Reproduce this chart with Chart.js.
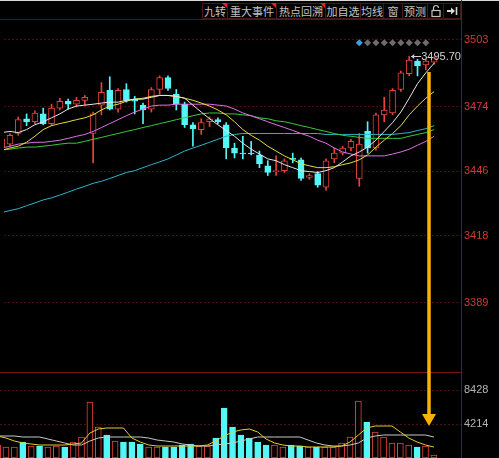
<!DOCTYPE html>
<html>
<head>
<meta charset="utf-8">
<title>K线</title>
<script src="https://cdn.jsdelivr.net/npm/chart.js@4.4.1/dist/chart.umd.min.js"></script>
<style>
    html, body { margin: 0; padding: 0; background: #000; overflow: hidden; }
    #wrap { position: relative; width: 499px; height: 458px; background: #000; }
    #priceBox { position: absolute; left: 0; top: 20px; width: 499px; height: 352px; }
    #volBox { position: absolute; left: 0; top: 372px; width: 499px; height: 86px; }
    .hline { position: absolute; left: 0; width: 461px; height: 1px; background: #5e1212; }
    .vline { position: absolute; left: 461px; top: 0; width: 1px; height: 458px; background: #6e1616; }
    .btn { position: absolute; top: 3px; height: 16px; box-sizing: border-box; border: 1px solid #4a1717;
           font: 11px "Noto Sans CJK SC", sans-serif; line-height: 14px; color: #c4c4c4; text-align: center; }
    .tri { position: absolute; right: -1px; top: -1px; width: 0; height: 0;
           border-top: 6px solid #e02424; border-left: 6px solid transparent; }
    #topStrip { position: absolute; left: 0; top: 0; width: 499px; height: 1px; background: #d8d8d8; }
    #arrow { position: absolute; left: 0; top: 0; pointer-events: none; }
</style>
</head>
<body>
<div id="wrap">
    <div id="topStrip"></div>
    <div id="toolbar"></div>
    <div class="hline" style="top:19px"></div>
    <div id="priceBox"><canvas id="priceChart"></canvas></div>
    <div id="volBox"><canvas id="volChart"></canvas></div>
    <div class="hline" style="top:372px;background:#761616"></div>
    <div class="vline"></div>
    <svg id="arrow" width="499" height="458">
        <line x1="429" y1="72" x2="429" y2="416" stroke="#f4b400" stroke-width="3.5"/>
        <polygon points="422,414 436,414 429,426" fill="#f4b400"/>
    </svg>
</div>
<script>
// daily candles, first entry is the partly hidden one at the left edge
const opens  = [3456.4,
    3457.7, 3462.3, 3468.7, 3467.4, 3470.8, 3466.6, 3473.3, 3476.3, 3475.0, 3476.7,
    3462.3, 3474.6, 3481.0, 3472.9, 3481.4, 3477.2, 3474.6, 3472.9, 3481.4, 3486.5,
    3479.3, 3475.0, 3466.1, 3464.0, 3467.4, 3468.3, 3466.1, 3456.0, 3453.8, 3453.8,
    3453.0, 3448.3, 3445.8, 3446.2, 3451.5, 3450.9, 3443.3, 3444.9, 3439.0, 3451.3,
    3453.8, 3456.0, 3442.8, 3463.2, 3456.0, 3470.4, 3471.2, 3481.4, 3488.2, 3493.7,
    3492.0, 3493.2];
const closes = [3459.8,
    3461.5, 3468.3, 3467.4, 3471.2, 3466.6, 3473.3, 3476.3, 3475.0, 3476.7, 3478.0,
    3470.8, 3480.1, 3472.9, 3481.0, 3476.7, 3476.3, 3472.5, 3481.4, 3486.5, 3481.8,
    3475.0, 3466.1, 3464.4, 3467.0, 3468.7, 3467.4, 3456.0, 3453.8, 3453.4, 3453.4,
    3449.2, 3445.4, 3446.2, 3450.5, 3451.1, 3442.8, 3444.1, 3439.9, 3450.5, 3453.8,
    3456.0, 3458.9, 3457.7, 3456.0, 3470.4, 3472.5, 3481.0, 3488.6, 3494.1, 3491.6,
    3493.7, 3495.2];
const highs  = [3460.6,
    3462.3, 3469.5, 3470.8, 3472.1, 3473.3, 3475.0, 3477.6, 3477.2, 3478.0, 3478.8,
    3471.6, 3484.4, 3486.9, 3481.8, 3483.9, 3478.4, 3475.5, 3482.2, 3487.3, 3487.3,
    3481.4, 3475.9, 3467.0, 3468.7, 3469.5, 3469.1, 3467.0, 3458.1, 3461.1, 3458.9,
    3454.7, 3450.5, 3452.6, 3451.3, 3453.8, 3451.7, 3444.9, 3445.8, 3451.3, 3456.0,
    3456.8, 3459.8, 3462.3, 3467.4, 3471.2, 3478.0, 3481.8, 3489.4, 3495.7, 3494.5,
    3494.5, 3495.5];
const lows   = [3455.5,
    3456.8, 3461.5, 3465.7, 3466.6, 3466.1, 3465.7, 3472.5, 3472.9, 3473.8, 3474.6,
    3449.6, 3470.4, 3472.5, 3471.6, 3475.9, 3470.8, 3466.6, 3471.6, 3479.3, 3481.0,
    3472.5, 3464.9, 3456.8, 3461.9, 3465.3, 3466.6, 3451.3, 3451.7, 3451.3, 3453.0,
    3447.5, 3444.1, 3444.1, 3445.4, 3449.6, 3442.0, 3442.4, 3439.0, 3437.7, 3449.6,
    3453.0, 3454.7, 3439.4, 3453.8, 3455.1, 3467.4, 3470.4, 3480.5, 3487.3, 3487.3,
    3489.9, 3492.4];

const ma5  = [3462.7,
    3463.2, 3462.7, 3464.0, 3466.1, 3467.4, 3469.1, 3470.8, 3472.9, 3474.2, 3474.6,
    3475.0, 3475.5, 3475.9, 3475.9, 3476.7, 3477.2, 3477.2, 3478.0, 3478.8, 3478.8,
    3478.4, 3477.6, 3474.6, 3471.6, 3468.7, 3466.1, 3463.6, 3461.1, 3458.1, 3455.5,
    3453.4, 3451.3, 3450.5, 3448.8, 3447.5, 3446.2, 3445.8, 3445.4, 3446.2, 3447.5,
    3450.0, 3452.6, 3454.3, 3456.4, 3459.4, 3463.2, 3467.0, 3471.6, 3477.6, 3483.9,
    3488.6, 3492.8];
const ma10 = [3455.1,
    3456.0, 3456.8, 3458.5, 3461.1, 3464.0, 3465.7, 3466.6, 3467.4, 3468.3, 3469.1,
    3470.4, 3472.5, 3474.2, 3475.0, 3476.3, 3477.2, 3477.6, 3478.4, 3478.8, 3478.8,
    3478.4, 3477.6, 3476.7, 3475.5, 3474.2, 3472.5, 3470.4, 3467.4, 3464.0, 3461.5,
    3459.4, 3456.8, 3454.7, 3452.6, 3450.9, 3449.2, 3448.3, 3447.5, 3447.5, 3447.9,
    3448.8, 3449.6, 3450.9, 3453.0, 3456.4, 3459.4, 3462.3, 3465.7, 3470.4, 3474.2,
    3477.6, 3480.5];
const ma20 = [3456.0,
    3456.8, 3457.7, 3458.1, 3458.5, 3458.5, 3458.9, 3459.4, 3460.2, 3461.1, 3461.9,
    3463.2, 3464.9, 3466.6, 3468.3, 3470.0, 3471.6, 3472.9, 3474.2, 3474.6, 3474.6,
    3475.0, 3475.0, 3475.0, 3475.0, 3475.0, 3474.6, 3474.2, 3472.9, 3471.2, 3470.0,
    3468.7, 3467.4, 3466.1, 3464.9, 3463.6, 3462.3, 3461.1, 3459.4, 3458.1, 3456.0,
    3454.3, 3453.4, 3452.6, 3452.6, 3452.6, 3452.6, 3453.4, 3454.3, 3455.5, 3457.2,
    3458.9, 3461.1];
const ma30 = [3455.1,
    3455.5, 3456.0, 3456.4, 3456.4, 3456.8, 3457.2, 3457.7, 3458.1, 3458.1, 3458.9,
    3459.8, 3460.6, 3461.5, 3462.3, 3463.2, 3464.0, 3464.9, 3465.7, 3466.6, 3467.4,
    3468.3, 3469.1, 3470.0, 3470.8, 3471.2, 3471.2, 3470.8, 3470.8, 3470.4, 3470.0,
    3469.1, 3468.7, 3467.8, 3467.4, 3466.6, 3465.7, 3464.9, 3464.0, 3463.2, 3462.3,
    3461.5, 3461.1, 3460.6, 3460.2, 3460.2, 3460.2, 3460.2, 3460.2, 3461.1, 3461.9,
    3462.7, 3464.0];
const ma60 = [3428.0,
    3428.9, 3429.7, 3431.0, 3432.2, 3433.5, 3434.4, 3435.6, 3436.9, 3438.2, 3439.4,
    3440.7, 3441.6, 3442.8, 3444.1, 3445.4, 3446.2, 3447.5, 3448.8, 3450.0, 3451.3,
    3453.0, 3454.7, 3456.0, 3457.2, 3458.5, 3459.8, 3461.1, 3461.9, 3462.3, 3462.3,
    3462.3, 3462.3, 3462.3, 3462.3, 3462.3, 3462.3, 3462.3, 3462.3, 3461.9, 3461.9,
    3461.9, 3461.9, 3461.9, 3461.9, 3461.9, 3461.9, 3461.9, 3462.3, 3462.7, 3463.6,
    3464.4, 3465.7];

const volumes = [1612,
    1364, 1364, 1984, 1488, 1488, 1364, 1488, 1364, 1984, 2604,
    6944, 3844, 2852, 2108, 1984, 1984, 1736, 1364, 1364, 1364,
    1364, 1612, 1736, 1488, 1488, 2480, 6200, 3844, 2852, 2480,
    1984, 1612, 1612, 1364, 1612, 1488, 1364, 1364, 1364, 1364,
    1860, 2604, 7068, 4464, 3224, 2604, 1860, 1860, 1612, 1364,
    1488, 372];
const volMa5 = [2728,
    2480, 2108, 1860, 1736, 1612, 1612, 1612, 1612, 1736, 1860,
    3100, 3596, 3720, 3720, 3720, 2480, 1984, 1612, 1488, 1488,
    1488, 1488, 1488, 1488, 1612, 2108, 2728, 3224, 3472, 3596,
    3224, 2356, 1860, 1612, 1488, 1488, 1364, 1364, 1364, 1364,
    1488, 1984, 2852, 3720, 3968, 3968, 3968, 3224, 2480, 1984,
    1612, 1364];
const volMa10 = [2728,
    2728, 2728, 2604, 2604, 2604, 2356, 2108, 1860, 1612, 1612,
    2108, 2480, 2604, 2604, 2604, 2604, 2604, 2480, 2232, 2108,
    1984, 1736, 1612, 1488, 1488, 1612, 1736, 1860, 2108, 2356,
    2604, 2604, 2604, 2604, 2604, 2604, 2232, 1860, 1612, 1488,
    1488, 1612, 1860, 2480, 2728, 2852, 2852, 2852, 2852, 2852,
    2852, 2604];

const priceTicks = [3503, 3474, 3446, 3418, 3389];
const volTicks = [4214, 8428];
const signalDays = [43, 44, 45, 46, 47, 48, 49, 50, 51];
const signalLevel = 3501.6;

const tools = ['九转', '重大事件', '热点回溯', '加自选', '均线', '窗', '预测', '', ''];
const toolEdges = [202, 227, 276, 325, 360, 383, 402, 427, 443, 460];

const RED = '#e8423c';
const CYAN = '#54f6f6';
const X_MIN = 0.285, X_MAX = 55.23;

// toolbar
const bar = document.getElementById('toolbar');
tools.forEach((t, i) => {
    const d = document.createElement('div');
    d.className = 'btn';
    d.style.left = toolEdges[i] + 'px';
    d.style.width = (toolEdges[i + 1] - toolEdges[i] + 1) + 'px';
    d.textContent = t;
    if (i < 3) d.innerHTML += '<span class="tri"></span>';
    bar.appendChild(d);
});
bar.children[7].innerHTML = '<svg width="14" height="14" style="margin-top:0px"><path d="M4.5 6 V4 a2.5 2.5 0 0 1 5 0" fill="none" stroke="#c4c4c4" stroke-width="1.2"/><rect x="3" y="6.5" width="8" height="6" fill="none" stroke="#c4c4c4" stroke-width="1.2"/></svg>';
bar.children[8].innerHTML = '<svg width="14" height="14"><path d="M2 7 H8" stroke="#d8d8d8" stroke-width="2"/><path d="M6 3.5 L10 7 L6 10.5 Z" fill="#d8d8d8"/><path d="M11.5 3 V11" stroke="#d8d8d8" stroke-width="1.6"/></svg>';

const days = closes.map((c, i) => i);
const isUp = days.map(i => closes[i] >= opens[i]);
const candleColor = isUp.map(u => u ? RED : CYAN);
const bodyFill = isUp.map(u => u ? '#000' : CYAN);

function lineSet(values, color) {
    return {
        type: 'line',
        data: values.map((v, i) => ({ x: i, y: v })),
        borderColor: color,
        borderWidth: 1,
        pointRadius: 0,
        tension: 0,
        order: 0
    };
}

const highLabel = {
    id: 'highLabel',
    afterDatasetsDraw(chart) {
        const xs = chart.scales.x, ys = chart.scales.y, ctx = chart.ctx;
        let k = 0;
        highs.forEach((h, i) => { if (h > highs[k]) k = i; });
        const px = xs.getPixelForValue(k);
        const py = Math.round(ys.getPixelForValue(highs[k])) + 0.5;
        ctx.save();
        ctx.strokeStyle = '#d0d0d0';
        ctx.fillStyle = '#d0d0d0';
        ctx.lineWidth = 1;
        ctx.beginPath();
        ctx.moveTo(px + 2, py);
        ctx.lineTo(px + 12, py);
        ctx.stroke();
        ctx.beginPath();
        ctx.moveTo(px + 2, py);
        ctx.lineTo(px + 5, py - 2.5);
        ctx.lineTo(px + 5, py + 2.5);
        ctx.fill();
        ctx.font = '11px "Liberation Sans", Arial, sans-serif';
        ctx.textBaseline = 'middle';
        ctx.fillText(highs[k].toFixed(2), px + 12, py);
        ctx.restore();
    }
};

function rightAxis(min, max, ticks, color) {
    return {
        position: 'right',
        min: min,
        max: max,
        afterBuildTicks: s => { s.ticks = ticks.map(v => ({ value: v })); },
        afterFit: s => { s.width = 38; s.paddingTop = 0; s.paddingBottom = 0; },
        ticks: {
            color: color,
            padding: 3,
            font: { family: '"Liberation Sans", Arial, sans-serif', size: 11 },
            callback: v => String(v)
        },
        grid: { color: '#4a0e0e', drawTicks: false },
        border: { display: false, dash: [2, 2] }
    };
}

const xAxis = { type: 'linear', display: false, min: X_MIN, max: X_MAX, offset: false };

new Chart(document.getElementById('priceChart'), {
    type: 'bar',
    data: {
        datasets: [
            lineSet(ma5, '#e6e6e6'),
            lineSet(ma10, '#e8dc3c'),
            lineSet(ma20, '#e070e6'),
            lineSet(ma30, '#3cc83c'),
            lineSet(ma60, '#2fb4c4'),
            {
                type: 'line',
                showLine: false,
                data: signalDays.map(d => ({ x: d, y: signalLevel })),
                pointStyle: 'rectRot',
                pointRadius: 3.5,
                pointBorderWidth: 0,
                pointBackgroundColor: signalDays.map((d, i) => i === 0 ? '#3a9ee0' : '#6c6c6c'),
                order: 0
            },
            {
                data: days.map(i => ({ x: i, y: [opens[i], closes[i]] })),
                backgroundColor: bodyFill,
                borderColor: candleColor,
                borderWidth: 1,
                borderSkipped: false,
                barThickness: 6,
                minBarLength: 1,
                grouped: false,
                order: 1
            },
            {
                data: days.map(i => ({ x: i, y: [lows[i], highs[i]] })),
                backgroundColor: candleColor,
                barThickness: 1,
                grouped: false,
                order: 2
            }
        ]
    },
    options: {
        responsive: true,
        maintainAspectRatio: false,
        devicePixelRatio: 1,
        animation: false,
        layout: { padding: 0 },
        plugins: { legend: { display: false }, tooltip: { enabled: false } },
        scales: {
            x: xAxis,
            y: rightAxis(3360.63, 3509.78, priceTicks, '#d23a36')
        }
    },
    plugins: [highLabel]
});

new Chart(document.getElementById('volChart'), {
    type: 'bar',
    data: {
        datasets: [
            lineSet(volMa5, '#e0d030'),
            lineSet(volMa10, '#c8c8c8'),
            {
                data: days.map(i => ({ x: i, y: volumes[i] })),
                backgroundColor: bodyFill,
                borderColor: candleColor,
                borderWidth: 1,
                borderSkipped: false,
                barThickness: 6,
                grouped: false,
                order: 1
            }
        ]
    },
    options: {
        responsive: true,
        maintainAspectRatio: false,
        devicePixelRatio: 1,
        animation: false,
        layout: { padding: 0 },
        plugins: { legend: { display: false }, tooltip: { enabled: false } },
        scales: {
            x: xAxis,
            y: rightAxis(0, 10664, volTicks, '#b4b4b4')
        }
    }
});
</script>
</body>
</html>
